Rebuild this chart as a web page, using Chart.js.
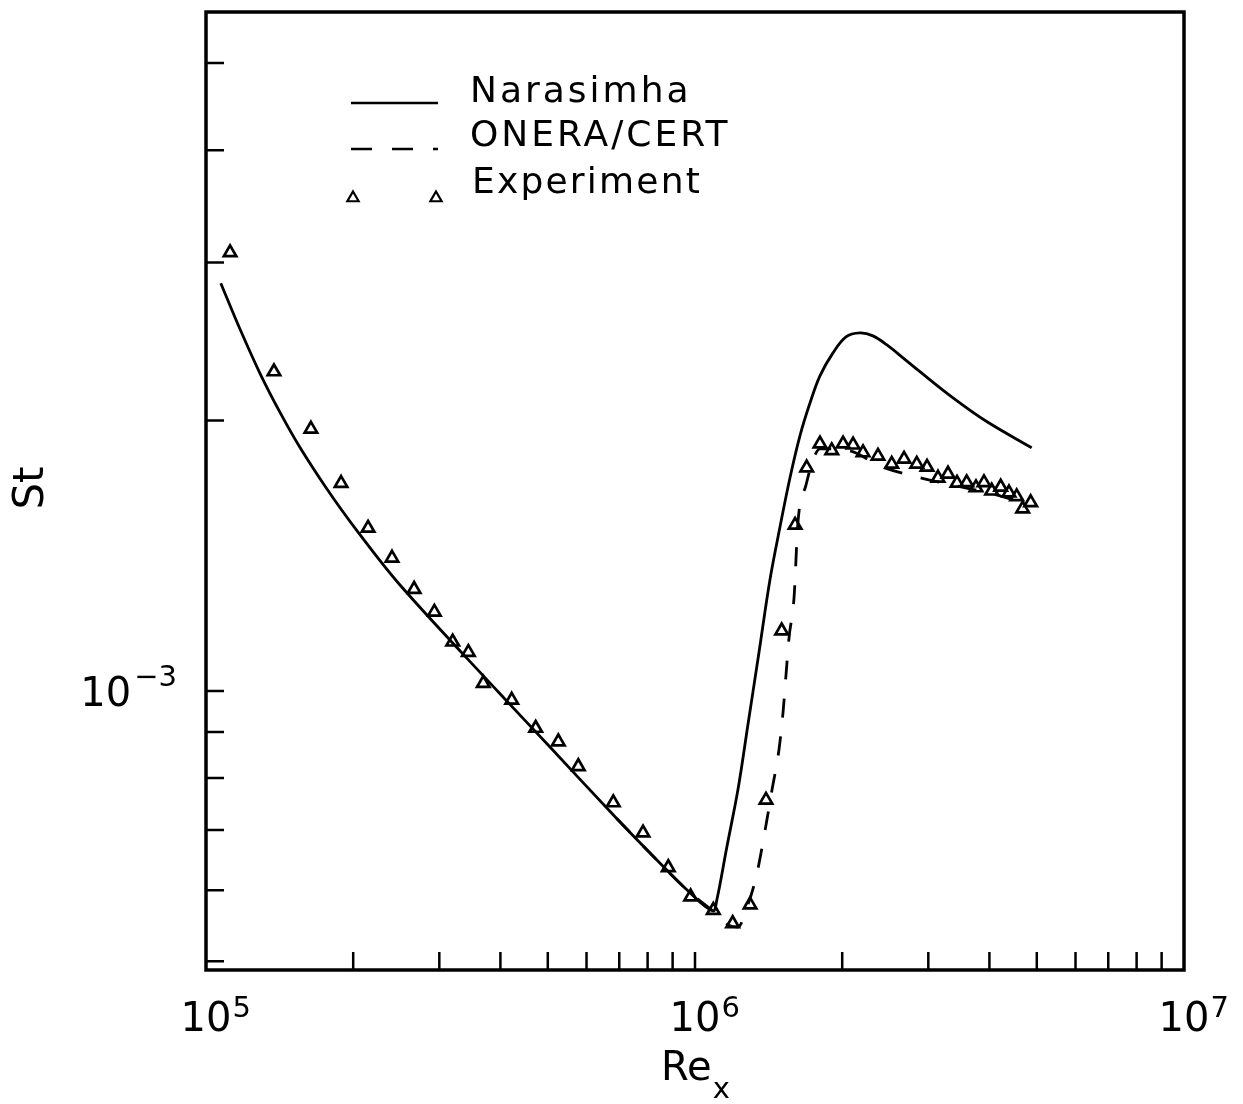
<!DOCTYPE html>
<html>
<head>
<meta charset="utf-8">
<title>St vs Re_x</title>
<script src="https://cdn.jsdelivr.net/npm/chart.js@4.4.1/dist/chart.umd.min.js"></script>
<style>
  html, body { margin: 0; padding: 0; background: #fff; overflow: hidden; }
  canvas { display: block; }
</style>
</head>
<body>
<canvas id="chartStanton" width="1243" height="1104"></canvas>
<script>
// Experiment (triangles)
const expRe = [
  1.120e5, 1.377e5, 1.639e5, 1.889e5, 2.145e5, 2.401e5, 2.664e5, 2.931e5,
  3.195e5, 3.440e5, 3.690e5, 4.219e5, 4.723e5, 5.254e5, 5.772e5, 6.806e5,
  7.829e5, 8.818e5, 9.799e5, 1.090e6, 1.194e6, 1.296e6, 1.397e6, 1.504e6,
  1.602e6, 1.692e6, 1.801e6, 1.904e6, 2.008e6, 2.105e6, 2.206e6, 2.367e6,
  2.525e6, 2.676e6, 2.841e6, 2.982e6, 3.140e6, 3.291e6, 3.434e6, 3.594e6,
  3.755e6, 3.899e6, 4.043e6, 4.218e6, 4.386e6, 4.548e6, 4.678e6, 4.858e6
];
const expSt = [
  3.076e-3, 2.267e-3, 1.957e-3, 1.703e-3, 1.518e-3, 1.406e-3, 1.298e-3, 1.224e-3,
  1.134e-3, 1.104e-3, 1.020e-3, 9.77e-4, 9.09e-4, 8.78e-4, 8.24e-4, 7.51e-4,
  6.95e-4, 6.36e-4, 5.90e-4, 5.70e-4, 5.51e-4, 5.78e-4, 7.56e-4, 1.167e-3,
  1.530e-3, 1.772e-3, 1.884e-3, 1.852e-3, 1.884e-3, 1.879e-3, 1.842e-3, 1.826e-3,
  1.789e-3, 1.812e-3, 1.789e-3, 1.775e-3, 1.726e-3, 1.744e-3, 1.704e-3, 1.706e-3,
  1.684e-3, 1.706e-3, 1.670e-3, 1.687e-3, 1.662e-3, 1.646e-3, 1.595e-3, 1.621e-3
];

// Narasimha (solid)
const narRe = [
  1.072e5, 1.174e5, 1.290e5, 1.417e5, 1.557e5, 1.766e5, 2.017e5, 2.493e5,
  3.992e5, 5.052e5, 6.916e5, 8.091e5, 9.768e5, 1.088e6, 1.108e6, 1.161e6,
  1.224e6, 1.283e6, 1.352e6, 1.423e6, 1.492e6, 1.564e6, 1.639e6, 1.719e6,
  1.801e6, 1.915e6, 2.036e6, 2.175e6, 2.312e6, 2.469e6, 2.663e6, 2.884e6,
  3.370e6, 3.949e6, 4.881e6
];
const narSt = [
  2.844e-3, 2.527e-3, 2.256e-3, 2.042e-3, 1.866e-3, 1.679e-3, 1.518e-3, 1.312e-3,
  9.93e-4, 8.66e-4, 7.21e-4, 6.60e-4, 5.96e-4, 5.69e-4, 5.85e-4, 6.69e-4,
  7.76e-4, 9.17e-4, 1.105e-3, 1.329e-3, 1.522e-3, 1.727e-3, 1.923e-3, 2.093e-3,
  2.243e-3, 2.379e-3, 2.479e-3, 2.504e-3, 2.485e-3, 2.428e-3, 2.349e-3, 2.267e-3,
  2.120e-3, 1.995e-3, 1.865e-3
];

// ONERA/CERT (dashed)
const oneraRe = [
  6.916e5, 8.091e5, 9.768e5, 1.088e6, 1.168e6, 1.224e6, 1.283e6, 1.339e6,
  1.397e6, 1.437e6, 1.485e6, 1.514e6, 1.535e6, 1.557e6, 1.594e6, 1.624e6,
  1.687e6, 1.743e6, 1.801e6, 2.075e6, 2.389e6, 2.844e6, 3.140e6, 3.651e6,
  4.205e6, 4.843e6
];
const oneraSt = [
  7.21e-4, 6.60e-4, 5.96e-4, 5.69e-4, 5.49e-4, 5.46e-4, 5.78e-4, 6.27e-4,
  7.09e-4, 7.76e-4, 8.60e-4, 9.48e-4, 1.042e-3, 1.146e-3, 1.269e-3, 1.542e-3,
  1.696e-3, 1.808e-3, 1.860e-3, 1.851e-3, 1.780e-3, 1.731e-3, 1.709e-3, 1.679e-3,
  1.649e-3, 1.611e-3
];

const seriesNames = ["Narasimha", "ONERA/CERT", "Experiment"];
const xTickLabels = [{ value: 1e5, exp: "5" }, { value: 1e6, exp: "6" }, { value: 1e7, exp: "7" }];
const yTickLabels = [{ value: 1e-3, exp: "\u22123" }];

const FONT = "'DejaVu Sans', sans-serif";
const DASH = [19, 19];

function pairs(xs, ys) {
  return xs.map(function (x, i) {
    return { x: x, y: ys[i] };
  });
}

function minorTicks(from, to) {
  const out = [];
  for (let d = from; d < to; d *= 10) {
    for (let k = 1; k <= 9; k++) {
      const v = k * d;
      if (v > from) out.push(v);
    }
  }
  return out;
}

function drawTriangle(ctx, x, y, r) {
  ctx.beginPath();
  ctx.moveTo(x, y - r);
  ctx.lineTo(x + r * Math.sin(Math.PI / 3), y + r / 2);
  ctx.lineTo(x - r * Math.sin(Math.PI / 3), y + r / 2);
  ctx.closePath();
  ctx.stroke();
}

const axisDecor = {
  id: "axisDecor",
  afterDraw(chart) {
    const ctx = chart.ctx;
    const a = chart.chartArea;
    const xs = chart.scales.x;
    const ys = chart.scales.y;
    ctx.save();
    ctx.strokeStyle = "#000";
    ctx.fillStyle = "#000";

    // frame
    ctx.lineWidth = 3.5;
    ctx.strokeRect(a.left, a.top, a.right - a.left, a.bottom - a.top);

    // inward ticks
    ctx.lineWidth = 2.5;
    ctx.beginPath();
    minorTicks(1e5, 1e7).forEach(function (v) {
      const px = xs.getPixelForValue(v);
      ctx.moveTo(px, a.bottom);
      ctx.lineTo(px, a.bottom - 18);
    });
    minorTicks(1e-4, 1e-2).forEach(function (v) {
      if (v < ys.min || v > ys.max) return;
      const py = ys.getPixelForValue(v);
      ctx.moveTo(a.left, py);
      ctx.lineTo(a.left + 18, py);
    });
    ctx.stroke();

    // x tick labels 10^n
    xTickLabels.forEach(function (t) {
      const px = xs.getPixelForValue(t.value);
      ctx.font = "40px " + FONT;
      ctx.textAlign = "center";
      ctx.textBaseline = "alphabetic";
      ctx.fillText("10", px, a.bottom + 61);
      const w = ctx.measureText("10").width;
      ctx.font = "29px " + FONT;
      ctx.textAlign = "left";
      ctx.fillText(t.exp, px + w / 2 + 1, a.bottom + 47);
    });

    // y tick labels
    yTickLabels.forEach(function (t) {
      const py = ys.getPixelForValue(t.value);
      ctx.font = "29px " + FONT;
      ctx.textAlign = "right";
      ctx.textBaseline = "alphabetic";
      ctx.fillText(t.exp, a.left - 29, py - 5);
      const we = ctx.measureText(t.exp).width;
      ctx.font = "40px " + FONT;
      ctx.fillText("10", a.left - 29 - we - 3, py + 15);
    });

    // axis titles
    ctx.font = "40px " + FONT;
    const wRe = ctx.measureText("Re").width;
    ctx.font = "29px " + FONT;
    const wx = ctx.measureText("x").width;
    const cx = (a.left + a.right) / 2;
    const startX = cx - (wRe + wx) / 2;
    ctx.textAlign = "left";
    ctx.font = "40px " + FONT;
    ctx.fillText("Re", startX, a.bottom + 110);
    ctx.font = "29px " + FONT;
    ctx.fillText("x", startX + wRe + 1, a.bottom + 128);

    ctx.save();
    ctx.translate(43, 488);
    ctx.rotate(-Math.PI / 2);
    ctx.font = "42px " + FONT;
    ctx.textAlign = "center";
    ctx.fillText("St", 0, 0);
    ctx.restore();

    // legend
    ctx.lineWidth = 2.5;
    ctx.beginPath();
    ctx.moveTo(351, 103);
    ctx.lineTo(438, 103);
    ctx.stroke();
    ctx.setLineDash([21, 20]);
    ctx.beginPath();
    ctx.moveTo(351, 149);
    ctx.lineTo(438, 149);
    ctx.stroke();
    ctx.setLineDash([]);
    ctx.lineWidth = 2.2;
    drawTriangle(ctx, 353, 198, 6.5);
    drawTriangle(ctx, 436, 198, 6.5);

    ctx.font = "36px " + FONT;
    ctx.textAlign = "left";
    ctx.letterSpacing = "3px";
    ctx.fillText(seriesNames[0], 470, 102);
    ctx.fillText(seriesNames[1], 470, 146);
    ctx.letterSpacing = "2.2px";
    ctx.fillText(seriesNames[2], 472, 193);
    ctx.restore();
  }
};

document.addEventListener("DOMContentLoaded", function () {
  createChart();
});

function createChart() {
  const ctx = document.getElementById("chartStanton").getContext("2d");
  new Chart(ctx, {
    type: "scatter",
    data: {
      datasets: [
        {
          label: seriesNames[2],
          data: pairs(expRe, expSt),
          showLine: false,
          pointStyle: "triangle",
          pointRadius: 7.2,
          pointBorderWidth: 2.7,
          pointBorderColor: "#000",
          pointBackgroundColor: "rgba(0,0,0,0)",
        },
        {
          label: seriesNames[0],
          data: pairs(narRe, narSt),
          showLine: true,
          borderColor: "#000",
          borderWidth: 2.8,
          pointRadius: 0,
          tension: 0.35,
        },
        {
          label: seriesNames[1],
          data: pairs(oneraRe, oneraSt),
          showLine: true,
          borderColor: "#000",
          borderWidth: 2.8,
          borderDash: DASH,
          pointRadius: 0,
          cubicInterpolationMode: "monotone",
        },
      ],
    },
    options: {
      responsive: false,
      animation: false,
      devicePixelRatio: 1,
      layout: {
        padding: { left: 206, right: 59, top: 12, bottom: 134 },
      },
      scales: {
        x: { type: "logarithmic", min: 1e5, max: 1e7, display: false },
        y: { type: "logarithmic", min: 4.89e-4, max: 5.70e-3, display: false },
      },
      plugins: {
        legend: { display: false },
        tooltip: { enabled: false },
      },
    },
    plugins: [axisDecor],
  });
}
</script>
</body>
</html>
